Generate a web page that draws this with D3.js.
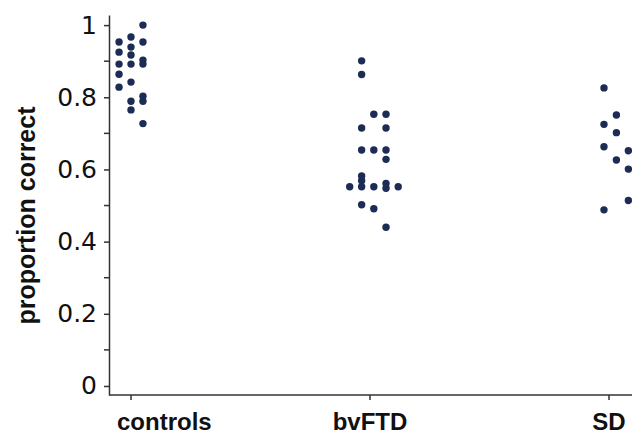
<!DOCTYPE html>
<html>
<head>
<meta charset="utf-8">
<script src="https://cdn.jsdelivr.net/npm/d3@7"></script>
<style>
  body { margin: 0; background: #fff; }
  svg { display: block; }
  .axis path, .axis line { stroke: #333; stroke-width: 1.5; }
  .axis text { font-family: "Liberation Sans", Arial, sans-serif; fill: #111; }
</style>
</head>
<body>
<div id="canvas"></div>
<script>
// groups shown on the x axis
var categories = ["controls", "bvFTD", "SD"];

// proportion correct per participant, with the dot-plot column position (in category units)
var controlsValues = [0.953, 0.925, 0.892, 0.864, 0.828,
                      0.967, 0.939, 0.917, 0.892, 0.842, 0.789, 0.765,
                      1.0, 0.953, 0.903, 0.892, 0.803, 0.789, 0.727];
var controlsPos = [-0.05, -0.05, -0.05, -0.05, -0.05,
                   0, 0, 0, 0, 0, 0, 0,
                   0.05, 0.05, 0.05, 0.05, 0.05, 0.05, 0.05];

var bvftdValues = [0.901, 0.863, 0.715, 0.654, 0.582, 0.569, 0.552, 0.502,
                   0.552,
                   0.753, 0.654, 0.552, 0.491,
                   0.753, 0.715, 0.654, 0.628, 0.561, 0.548, 0.440,
                   0.552];
var bvftdPos = [0.965, 0.965, 0.965, 0.965, 0.965, 0.965, 0.965, 0.965,
                0.915,
                1.016, 1.016, 1.016, 1.016,
                1.067, 1.067, 1.067, 1.067, 1.067, 1.067, 1.067,
                1.118];

var sdValues = [0.826, 0.725, 0.663, 0.488,
                0.751, 0.702, 0.626,
                0.652, 0.601, 0.514];
var sdPos = [1.979, 1.979, 1.979, 1.979,
             2.031, 2.031, 2.031,
             2.081, 2.081, 2.081];

var yTicks = [0, 0.2, 0.4, 0.6, 0.8, 1];
var yMinorTicks = [0.1, 0.3, 0.5, 0.7, 0.9];

function drawChart() {
  var svg = d3.select('#canvas').append("svg").attr("width", 632).attr("height", 435);

  var x = d3.scaleLinear().domain([0, 2]).range([131, 609]);
  var y = d3.scaleLinear().domain([-0.025, 1.028]).range([395, 15]);

  // y axis with major and minor ticks
  var yAxis = svg.append("g").attr("class", "axis")
    .attr("transform", "translate(109,0)")
    .call(d3.axisLeft(y).tickValues(yTicks).tickSize(5).tickSizeOuter(0).tickPadding(7)
      .tickFormat(d => d === 0 || d === 1 ? d3.format("d")(d) : d3.format(".1f")(d)));
  yAxis.selectAll("text")
    .style("font-family", "'DejaVu Sans', sans-serif")
    .style("font-size", "25px");
  yAxis.selectAll("line.minor")
    .data(yMinorTicks).enter()
    .append("line")
    .attr("x1", -5).attr("x2", 0)
    .attr("y1", d => y(d)).attr("y2", d => y(d));

  // x axis sits just below zero
  var xAxis = svg.append("g").attr("class", "axis")
    .attr("transform", "translate(0," + y(-0.025) + ")");
  xAxis.append("line")
    .attr("x1", 109).attr("x2", 632).attr("y1", 0).attr("y2", 0);
  xAxis.selectAll("line.tick")
    .data(categories).enter()
    .append("line")
    .attr("x1", (d, i) => x(i)).attr("x2", (d, i) => x(i))
    .attr("y1", 0).attr("y2", 5);
  xAxis.selectAll("text.cat")
    .data(categories).enter()
    .append("text")
    .attr("x", (d, i) => i === 0 ? x(i) - 14 : x(i))
    .attr("y", 35)
    .style("text-anchor", (d, i) => i === 0 ? "start" : "middle")
    .style("font-size", "24px")
    .style("font-weight", "bold")
    .text(d => d);

  svg.append("text")
    .attr("transform", "translate(35," + (y(0.5) + 10) + ") rotate(-90)")
    .style("text-anchor", "middle")
    .style("font-family", "'Liberation Sans', Arial, sans-serif")
    .style("font-size", "25px")
    .style("font-weight", "bold")
    .style("fill", "#111")
    .text("proportion correct");

  // dots for every participant
  var points = [];
  [[controlsValues, controlsPos], [bvftdValues, bvftdPos], [sdValues, sdPos]].forEach(g => {
    g[0].forEach((v, i) => points.push({ value: v, pos: g[1][i] }));
  });

  svg.selectAll("circle.dot")
    .data(points).enter()
    .append("circle")
    .attr("class", "dot")
    .attr("cx", d => x(d.pos))
    .attr("cy", d => y(d.value))
    .attr("r", 3.7)
    .style("fill", "#1d2c55");
}

drawChart();
</script>
</body>
</html>
